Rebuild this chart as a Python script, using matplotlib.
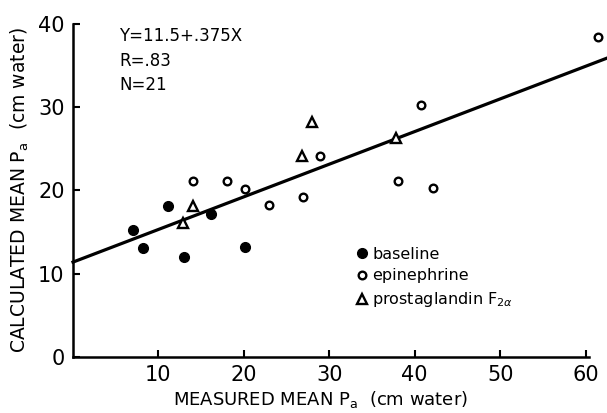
import numpy as np
import matplotlib
matplotlib.use('Agg')
import matplotlib.pyplot as plt

# data
base_x = [7.0, 8.2, 11.1, 13.0, 16.1, 20.1]
base_y = [15.2, 13.1, 18.1, 12.0, 17.2, 13.2]

epi_x = [14.0, 18.0, 20.1, 23.0, 26.9, 28.9, 40.7, 38.0, 42.1, 61.4]
epi_y = [21.1, 21.1, 20.2, 18.2, 19.2, 24.1, 30.3, 21.2, 20.3, 38.4]

pg_x = [28.0, 26.8, 14.0, 12.9, 37.8]
pg_y = [28.2, 24.2, 18.1, 16.1, 26.3]

# regression line as drawn
fit_x = [0.0, 62.5]
fit_y = [11.4, 35.9]

x_ticks = [10, 20, 30, 40, 50, 60]
y_ticks = [0, 10, 20, 30, 40]

plt.rcParams['font.family'] = ['DejaVu Sans']

fig = plt.figure(figsize=(6.07, 4.13), dpi=100)
ax = fig.add_axes([73/607, 56/413, 516/607, 333/413])

ax.plot(fit_x, fit_y, 'k-', lw=2.3, clip_on=False, zorder=2)
ax.plot(base_x, base_y, 'o', color='k', ms=7, ls='none', clip_on=False,
        zorder=3, label='baseline')
ax.plot(epi_x, epi_y, 'o', mfc='white', mec='k', mew=1.7, ms=5.5, ls='none',
        clip_on=False, zorder=3, label='epinephrine')
ax.plot(pg_x, pg_y, '^', mfc='white', mec='k', mew=1.7, ms=7, ls='none',
        clip_on=False, zorder=3, label='prostaglandin F$_{2\\alpha}$')

ax.set_xlim(0, 60.4)
ax.set_ylim(0, 40)
ax.set_xticks(x_ticks)
ax.set_yticks(y_ticks)
ax.tick_params(direction='in', length=5, width=1.5, labelsize=15, pad=6)
for s in ['top', 'right']:
    ax.spines[s].set_visible(False)
for s in ['left', 'bottom']:
    ax.spines[s].set_linewidth(1.8)

ax.set_xlabel('MEASURED MEAN P$_\\mathregular{a}$  (cm water)', fontsize=13,
              labelpad=3)
ax.xaxis.set_label_coords(0.48, -0.095)
ax.set_ylabel('CALCULATED MEAN P$_\\mathregular{a}$  (cm water)', fontsize=13.5,
              labelpad=5)

ax.text(0.09, 0.99, 'Y=11.5+.375X\nR=.83\nN=21', transform=ax.transAxes,
        fontsize=12, va='top', ha='left', linespacing=1.45)

ax.legend(loc='upper left', bbox_to_anchor=(0.535, 0.355), frameon=False,
          fontsize=11.5, handlelength=0.6, handletextpad=0.35,
          labelspacing=0.42, borderpad=0)

fig.savefig('out.png', dpi=100)
